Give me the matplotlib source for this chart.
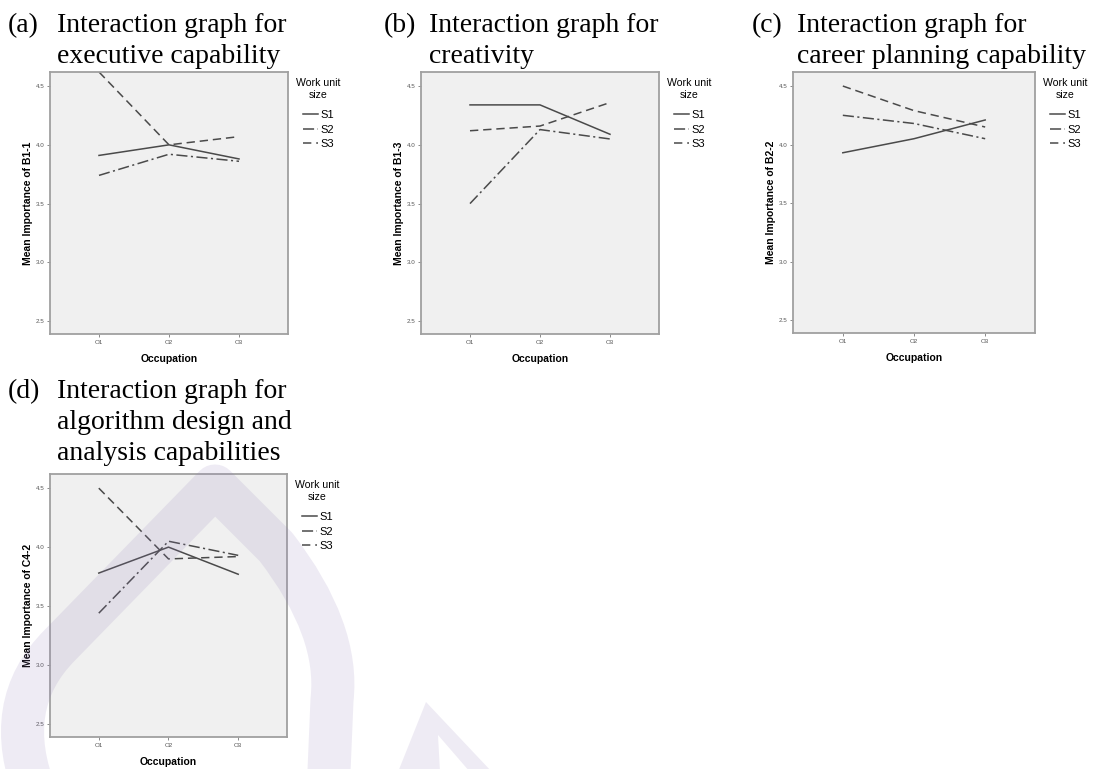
"""
Interaction graphs (occupation x work unit size) for four capabilities.
"""

import matplotlib.pyplot as plt
from matplotlib.lines import Line2D
from matplotlib.path import Path
from matplotlib.patches import PathPatch, Polygon

occupations = ["O1", "O2", "O3"]
unit_sizes = ["S1", "S2", "S3"]

# mean importance, one row per work unit size (S1, S2, S3)
exec_b11 = [[3.91, 4.00, 3.88],
            [3.74, 3.92, 3.86],
            [4.62, 4.00, 4.07]]
creat_b13 = [[4.34, 4.34, 4.09],
             [3.50, 4.13, 4.05],
             [4.12, 4.16, 4.36]]
career_b22 = [[3.93, 4.05, 4.21],
              [4.25, 4.18, 4.05],
              [4.50, 4.29, 4.15]]
algo_c42 = [[3.78, 4.00, 3.77],
            [3.44, 4.05, 3.93],
            [4.50, 3.90, 3.92]]

y_ticks = [2.5, 3.0, 3.5, 4.0, 4.5]

W, H = 1096, 769

plt.rcParams['font.family'] = ['Liberation Sans', 'DejaVu Sans']
plt.rcParams['lines.scale_dashes'] = False

line_styles = ['-', (0, (8, 2.5, 1.5, 2.5)), (0, (6, 3.5))]
line_color = '#4a4a4a'


def rect(x0, y0, x1, y1):
    """pixel box (top-left origin) -> figure fraction [l, b, w, h]"""
    return [x0 / W, 1 - y1 / H, (x1 - x0) / W, (y1 - y0) / H]


def draw_panel(fig, box, values, ylabel):
    x0, y0, x1, y1 = box
    bw, bh = x1 - x0, y1 - y0
    ax = fig.add_axes(rect(*box))
    ax.set_facecolor('#f0f0f0')
    xs = range(len(occupations))
    for vals, ls in zip(values, line_styles):
        ax.plot(xs, vals, ls=ls, color=line_color, lw=1.1)
    ax.set_xlim(-0.7, 2.7)
    ax.set_ylim(2.39, 4.62)
    ax.set_xticks(list(xs))
    ax.set_xticklabels(occupations)
    ax.set_yticks(y_ticks)
    ax.set_yticklabels([f"{t:.1f}" for t in y_ticks])
    ax.tick_params(labelsize=4.5, labelcolor='#555555', color='#777777',
                   length=2.5, width=0.6, pad=1.5)
    for s in ax.spines.values():
        s.set_color('#a0a0a0')
        s.set_linewidth(1.3)
    ax.set_xlabel("Occupation", fontsize=7.5, fontweight='bold')
    ax.set_ylabel(ylabel, fontsize=7.5, fontweight='bold')
    ax.xaxis.set_label_coords(0.5, -0.075)
    ax.yaxis.set_label_coords(-0.072, 0.5)

    # legend: title drawn by hand so the gap below it can match
    ax.text(1 + 30 / bw, 1 - 6 / bh, "Work unit\nsize", transform=ax.transAxes,
            ha='center', va='top', multialignment='center', fontsize=7.6,
            linespacing=1.3)
    handles = [Line2D([], [], ls=ls, color=line_color, lw=1.1) for ls in line_styles]
    ax.legend(handles, unit_sizes, loc='upper left',
              bbox_to_anchor=(1 + 15 / bw, 1 - 38 / bh), frameon=False,
              fontsize=8, handlelength=1.35, handletextpad=0.18,
              labelspacing=0.42, borderaxespad=0.0, borderpad=0.0)
    return ax


def draw_title(fig, x_lab, x_txt, y0, label, lines):
    for i, ln in enumerate(lines):
        y = 1 - (y0 + i * 31) / H
        if i == 0:
            fig.text(x_lab / W, y, label, fontsize=20, va='baseline',
                     family='Liberation Serif')
        fig.text(x_txt / W, y, ln, fontsize=20, va='baseline',
                 family='Liberation Serif')


fig = plt.figure(figsize=(W / 100, H / 100), dpi=100)

draw_panel(fig, (50, 72, 288, 334), exec_b11, "Mean Importance of B1-1")
draw_panel(fig, (421, 72, 659, 334), creat_b13, "Mean Importance of B1-3")
draw_panel(fig, (793, 72, 1035, 333), career_b22, "Mean Importance of B2-2")
draw_panel(fig, (50, 474, 287, 737), algo_c42, "Mean Importance of C4-2")

draw_title(fig, 8, 57, 32, "(a)", ["Interaction graph for", "executive capability"])
draw_title(fig, 384, 429, 32, "(b)", ["Interaction graph for", "creativity"])
draw_title(fig, 752, 797, 32, "(c)", ["Interaction graph for", "career planning capability"])
draw_title(fig, 8, 57, 398, "(d)", ["Interaction graph for", "algorithm design and",
                                    "analysis capabilities"])

# faint watermark over the lower-left part of the page
wm_color = '#8f7bb8'
wm = fig.add_axes([0, 0, 1, 1], zorder=10)
wm.set_xlim(0, W)
wm.set_ylim(H, 0)
wm.axis('off')
drop = Path([(36, 795), (0, 705), (60, 645), (215, 486),
             (276, 547), (340, 630), (332, 700), (328, 795)],
            [Path.MOVETO, Path.CURVE3, Path.CURVE3, Path.LINETO,
             Path.LINETO, Path.CURVE3, Path.CURVE3, Path.LINETO])
wm.add_patch(PathPatch(drop, fill=False, lw=31, color=wm_color, alpha=0.15,
                       joinstyle='round', capstyle='butt'))
wm.add_patch(Polygon([(426, 702), (398, 772), (440, 772), (438, 735),
                      (470, 772), (492, 772)], closed=True, lw=0,
                     color=wm_color, alpha=0.15))

fig.savefig("out.png", dpi=100)
plt.close()
